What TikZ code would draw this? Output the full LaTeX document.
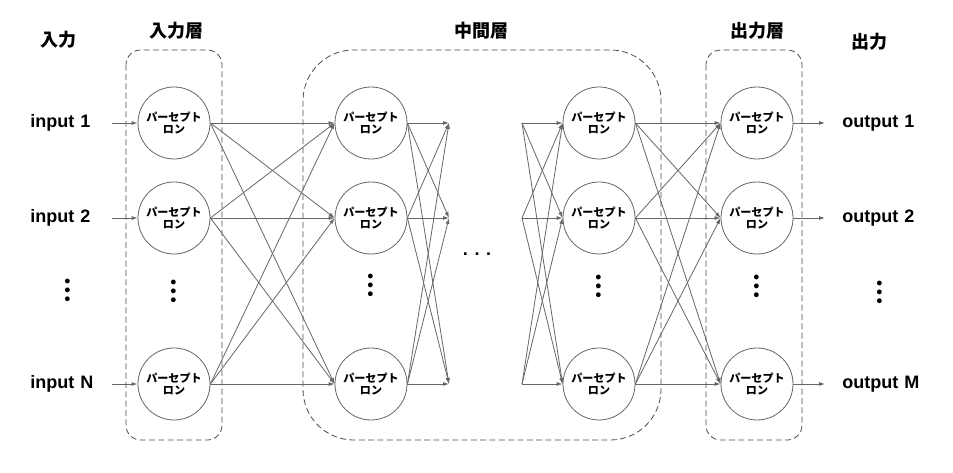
\documentclass[tikz,border=0pt]{standalone}
\usepackage{fontspec}
\setmainfont{Liberation Sans}
\newfontfamily\jpfont{Noto Sans CJK JP}
\usepackage{tikz}
\usetikzlibrary{positioning, arrows.meta}

\begin{document}
\begin{tikzpicture}[
      x=0.75pt, y=-0.75pt,
      unit/.style={circle, draw=black!60, line width=0.6pt, minimum size=54pt, inner sep=0pt, align=center,
        font=\jpfont\bfseries\fontsize{8.3}{9.6}\selectfont},
      layer/.style={draw=black!70, line width=0.6pt, dash pattern=on 4.5pt off 2.5pt},
      head/.style={font=\jpfont\bfseries\fontsize{13.5}{16}\selectfont},
      io/.style={font=\bfseries\fontsize{13.5}{16}\selectfont, inner sep=0pt, text width=64pt, align=left},
      vdot/.style={font=\jpfont\bfseries\fontsize{20}{24}\selectfont, inner sep=0pt},
      arr/.style={draw=black!60, line width=0.6pt, -{Latex[length=4.5pt, width=3pt]}}
    ]
    \useasboundingbox (0,0) rectangle (953,473);

    % layer frames
    \draw[layer, rounded corners=11pt] (126,50) rectangle (222,440);
    \draw[layer, rounded corners=38pt] (303,50) rectangle (661,440);
    \draw[layer, rounded corners=11pt] (706,50) rectangle (802,440);

    % headings
    \node[head] (hin) at (58,40) {入力};
    \node[head] (hla) at (176,31) {入力層};
    \node[head] (hmid) at (481,31) {中間層};
    \node[head] (hlo) at (757,31) {出力層};
    \node[head] (hout) at (869,42) {出力};

    % inputs and outputs
    \node[io, anchor=west] (in1) at (30,123) {input 1};
    \node[io, anchor=west] (in2) at (30,218) {input 2};
    \node[io, anchor=west] (in3) at (30,384) {input N};
    \node[io, anchor=west] (out1) at (842,123) {output 1};
    \node[io, anchor=west] (out2) at (842,218) {output 2};
    \node[io, anchor=west] (out3) at (842,384) {output M};

    % perceptrons
    \node[unit] (a1) at (174,123) {パーセプト\\ロン};
    \node[unit] (a2) at (174,218) {パーセプト\\ロン};
    \node[unit] (a3) at (174,384) {パーセプト\\ロン};
    \node[unit] (b1) at (371,123) {パーセプト\\ロン};
    \node[unit] (b2) at (371,218) {パーセプト\\ロン};
    \node[unit] (b3) at (371,384) {パーセプト\\ロン};
    \node[unit] (c1) at (599,123) {パーセプト\\ロン};
    \node[unit] (c2) at (599,218) {パーセプト\\ロン};
    \node[unit] (c3) at (599,384) {パーセプト\\ロン};
    \node[unit] (d1) at (757,123) {パーセプト\\ロン};
    \node[unit] (d2) at (757,218) {パーセプト\\ロン};
    \node[unit] (d3) at (757,384) {パーセプト\\ロン};

    % omitted rows and hidden layers
    \node[vdot] (vin) at (68,290) {︙};
    \node[vdot] (va) at (174,291) {︙};
    \node[vdot] (vb) at (371,285) {︙};
    \node[vdot] (vc) at (599,286) {︙};
    \node[vdot] (vd) at (757,286) {︙};
    \node[vdot] (vout) at (880,292) {︙};
    \node[font=\bfseries\fontsize{13.5}{16}\selectfont] (hdots) at (477,254) {. . .};

    \coordinate (m1) at (449,123);
    \coordinate (m2) at (449,218);
    \coordinate (m3) at (449,384);
    \coordinate (n1) at (522,123);
    \coordinate (n2) at (522,218);
    \coordinate (n3) at (522,384);

    \foreach \i in {1,2,3} {
      \draw[arr, shorten <=-3pt] (in\i.east) -- (a\i.west);
      \draw[arr, shorten >=12.75pt] (d\i.east) -- (out\i.west);
      \foreach \j in {1,2,3} {
        \draw[arr] (a\i.east) -- (b\j.west);
        \draw[arr] (b\i.east) -- (m\j);
        \draw[arr] (n\i) -- (c\j.west);
        \draw[arr] (c\i.east) -- (d\j.west);
      }
    }
  \end{tikzpicture}
\end{document}
